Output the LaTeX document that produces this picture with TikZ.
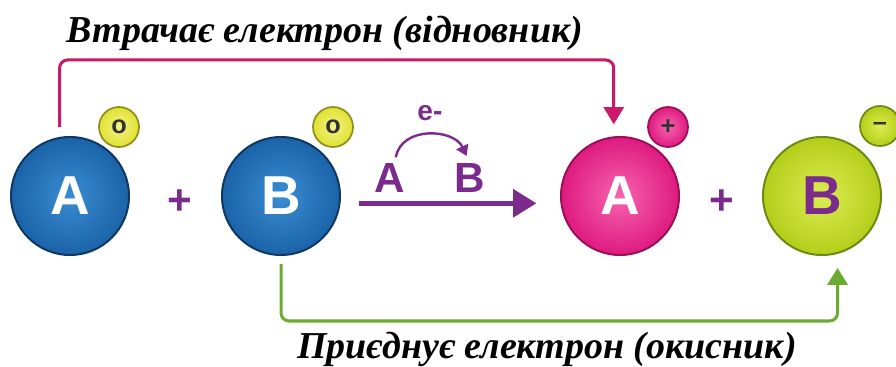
\documentclass[tikz,border=0pt]{standalone}
\usepackage{fontspec}
\setmainfont{Liberation Serif}
\setsansfont{Liberation Sans}
\usetikzlibrary{positioning, arrows.meta}

\definecolor{atomblue}{HTML}{1B63A8}
\definecolor{atombluein}{HTML}{3A8CD2}
\definecolor{atomblueedge}{HTML}{0E3763}
\definecolor{atompink}{HTML}{DE1A80}
\definecolor{atompinkin}{HTML}{F765AE}
\definecolor{atompinkedge}{HTML}{9C0F58}
\definecolor{atomgreen}{HTML}{B4CE1A}
\definecolor{atomgreenin}{HTML}{DCEC52}
\definecolor{atomgreenedge}{HTML}{6C8A12}
\definecolor{chargeyel}{HTML}{E0E132}
\definecolor{chargeyelin}{HTML}{F4F48A}
\definecolor{chargeyeledge}{HTML}{8E8E1A}
\definecolor{redoxpurple}{HTML}{7A2B8B}
\definecolor{losscolor}{HTML}{C8196B}
\definecolor{gaincolor}{HTML}{6BAB2F}

\begin{document}
\begin{tikzpicture}[
    x=0.025cm, y=-0.025cm,
    atom/.style={circle, minimum size=2.95cm, inner sep=0pt, line width=1.4pt, font=\sffamily\bfseries\fontsize{39pt}{40pt}\selectfont},
    bluenode/.style={atom, draw=atomblueedge, inner color=atombluein, outer color=atomblue, text=white},
    pinknode/.style={atom, draw=atompinkedge, inner color=atompinkin, outer color=atompink, text=white},
    greennode/.style={atom, draw=atomgreenedge, inner color=atomgreenin, outer color=atomgreen, text=redoxpurple},
    charge/.style={circle, minimum size=1cm, inner sep=0pt, line width=1.2pt, text=black!80, font=\sffamily\bfseries\fontsize{18pt}{20pt}\selectfont},
    chargeyellow/.style={charge, draw=chargeyeledge, inner color=chargeyelin, outer color=chargeyel},
    chargepink/.style={charge, draw=atompinkedge, inner color=atompinkin, outer color=atompink},
    chargegreen/.style={charge, draw=atomgreenedge, inner color=atomgreenin, outer color=atomgreen},
    plussign/.style={text=redoxpurple, font=\sffamily\bfseries\fontsize{30pt}{32pt}\selectfont},
    transferletter/.style={inner sep=0pt, text=redoxpurple, font=\sffamily\bfseries\fontsize{30pt}{32pt}\selectfont},
    electronlabel/.style={inner sep=0pt, text=redoxpurple, font=\sffamily\bfseries\fontsize{20pt}{22pt}\selectfont},
    reactionarrow/.style={redoxpurple, line width=0.125cm, -{Triangle[length=0.58cm, width=0.68cm]}},
    transferarrow/.style={redoxpurple, line width=0.06cm, -{Triangle[length=0.26cm, width=0.32cm]}},
    losspath/.style={losscolor, line width=0.075cm, rounded corners=0.2cm, -{Triangle[length=0.43cm, width=0.5cm]}},
    gainpath/.style={gaincolor, line width=0.075cm, rounded corners=0.2cm, -{Triangle[length=0.42cm, width=0.5cm]}},
    captiontext/.style={inner sep=0pt, anchor=base, font=\bfseries\itshape\fontsize{27pt}{30pt}\selectfont}
]
\useasboundingbox (0,0) rectangle (896,367);

% Reactants
\node[bluenode] (A1) at (70,196) {A};
\node[chargeyellow] (qA1) at (119,127) {o};
\node[plussign] (p1) at (180,202) {+};
\node[bluenode] (B1) at (281,196) {B};
\node[chargeyellow] (qB1) at (333,127) {o};

% Products
\node[pinknode] (A2) at (620,196) {A};
\node[chargepink] (qA2) at (668,127) {+};
\node[plussign] (p2) at (722,202) {+};
\node[greennode] (B2) at (822,196) {B};
\node[chargegreen] (qB2) at (880,126) {--};

% Electron transfer
\node[transferletter] (eA) at (390,178) {A};
\node[transferletter] (eB) at (470,178) {B};
\node[electronlabel] (e) at (430,113) {e-};
\draw[transferarrow, shorten <=0.15cm, shorten >=0.2cm] ([xshift=0.12cm]eA.north) to[out=80, in=115, looseness=1.3] (eB.north);

% Reaction arrow
\draw[reactionarrow, shorten <=0.45cm, shorten >=0.6cm] (B1.-7) -- (A2.187);

% Loss and gain of electron
\coordinate (losslevel) at (0,60);
\coordinate (gainlevel) at (0,321);
\draw[losspath, shorten <=0.25cm, shorten >=0.3cm] (A1.100) |- (losslevel -| A2.96) -- (A2.96);
\draw[gainpath, shorten <=0.2cm, shorten >=0.35cm] (B1.south) |- (gainlevel -| B2.-75) -- (B2.-75);

% Captions
\node[captiontext] (loss) at (325,43) {Втрачає електрон (відновник)};
\node[captiontext] (gain) at (547,359) {Приєднує електрон (окисник)};

\end{tikzpicture}
\end{document}
